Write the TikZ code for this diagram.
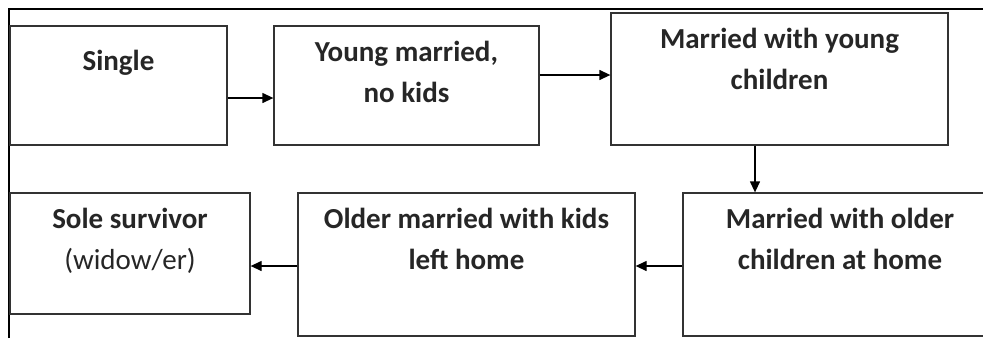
\documentclass[tikz,border=0pt]{standalone}
\usepackage{fontspec}
\setmainfont{Carlito}
\usetikzlibrary{positioning,arrows.meta}
\definecolor{cLine}{HTML}{333333}
\definecolor{cText}{HTML}{262626}

\begin{document}
\begin{tikzpicture}[x=1pt,y=-1pt,
      stagebox/.style={draw=cLine,line width=1.3pt,fill=white,inner sep=0pt},
      lbl/.style={text=cText,font=\fontsize{29}{41}\selectfont\bfseries,
                  align=center,inner sep=0pt,execute at begin node=\strut},
      arr/.style={-{Triangle[length=11pt,width=10pt]},line width=1.3pt,black},
      node distance=16pt]
    \useasboundingbox (0,0) rectangle (983,338);
    \clip (0,0) rectangle (983,338);
    % cropped outer frame
    \draw[line width=2pt] (9,338) -- (9,9) -- (983,9);
    \node[stagebox,minimum width=217pt,minimum height=119pt] (b1) at (118.5,85.5) {};
    \node[stagebox,minimum width=265pt,minimum height=119pt] (b2) at (406.5,85.5) {};
    \node[stagebox,minimum width=337pt,minimum height=132pt] (b3) at (779.5,79) {};
    \node[stagebox,minimum width=240pt,minimum height=121pt] (b4) at (130,253.5) {};
    \node[stagebox,minimum width=337pt,minimum height=143pt] (b5) at (466.5,264.5) {};
    \node[stagebox,minimum width=314pt,minimum height=143pt] (b6) at (840,264.5) {};
    \node[lbl,below=of b1.north] (t1) {Single};
    \node[lbl,below=of b2.north] (t2) {Young married,\\no kids};
    \node[lbl,below=of b3.north] (t3) {Married with young\\children};
    \node[lbl,below=of b4.north] (t4) {Sole survivor\\\mdseries(widow/er)};
    \node[lbl,below=of b5.north] (t5) {Older married with kids\\left home};
    \node[lbl,below=of b6.north] (t6) {Married with older\\children at home};
    \draw[arr] (b1.east |- 0,98) -- (b2.west |- 0,98);
    \draw[arr] (b2.east |- 0,75) -- (b3.west |- 0,75);
    \draw[arr] (b3.south -| 755,0) -- (b6.north -| 755,0);
    \draw[arr] (b6.west |- 0,266) -- (b5.east |- 0,266);
    \draw[arr] (b5.west |- 0,266) -- (b4.east |- 0,266);
  \end{tikzpicture}
\end{document}
